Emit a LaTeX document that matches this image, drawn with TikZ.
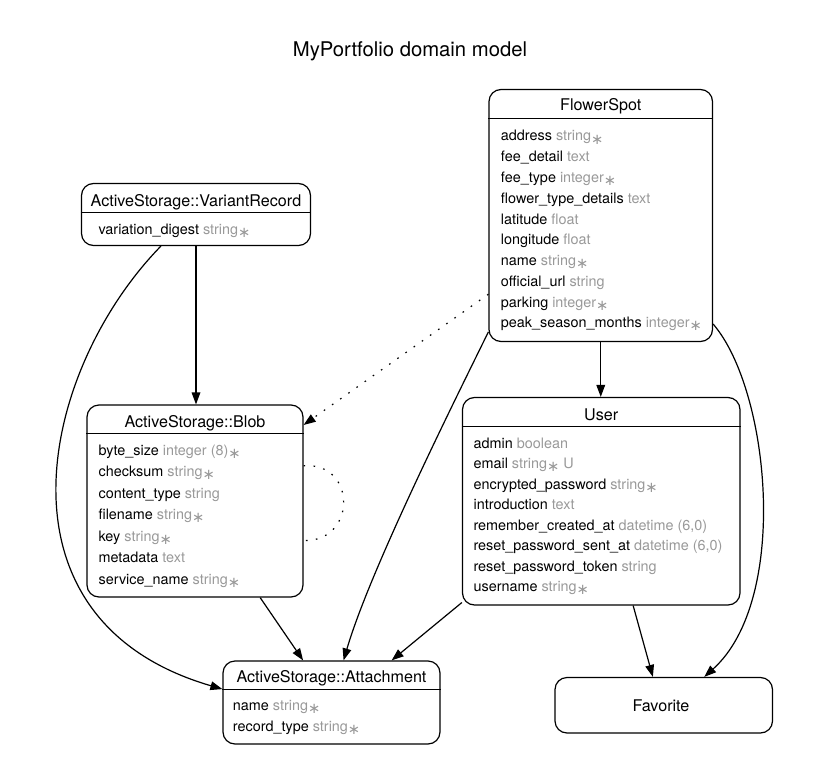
\documentclass[tikz,border=0pt]{standalone}
\usepackage{fontspec}
\setmainfont{TeX Gyre Heros}
\newfontfamily\symfont{DejaVu Sans}
\usetikzlibrary{arrows.meta}
\definecolor{typegray}{gray}{0.6}
\newcommand\req{\raisebox{-0.4ex}{\symfont\fontsize{11}{11}\selectfont ∗}}
\newcommand\ty[1]{\textcolor{typegray}{#1}}
\begin{document}
\begin{tikzpicture}[x=0.75pt,y=-0.75pt,
  box/.style={draw, line width=0.9pt, rounded corners=9pt, inner sep=0pt},
  sep/.style={line width=0.9pt},
  attr/.style={anchor=base west, inner sep=0pt, font=\fontsize{10.8}{13}\selectfont},
  ttl/.style={anchor=base, inner sep=0pt, font=\fontsize{12.1}{14}\selectfont},
  rel/.style={line width=0.9pt, -{Triangle[length=9pt,width=6.5pt]}},
  dottedrel/.style={line width=0.9pt, dash pattern=on 1.2pt off 6.3pt, -{Triangle[length=9pt,width=6.5pt]}},
  dottedloop/.style={line width=0.9pt, dash pattern=on 1.2pt off 6.3pt}]
\useasboundingbox (0,0) rectangle (820,781);
\fill[white] (0,0) rectangle (820,781);

\node[anchor=base, inner sep=0pt, font=\fontsize{15.2}{18}\selectfont] (title) at (410,57) {MyPortfolio domain model};

% FlowerSpot
\node[box, minimum width=223.5*0.75pt, minimum height=252*0.75pt] (fs) at (600.75,215.5) {};
\node[ttl] (fs-t) at (600.75,111) {FlowerSpot};
\draw[sep] (fs.west |- 0,118.3) -- (fs.east |- 0,118.3);
\node[attr] (fs-1) at (500.7,141) {address \ty{string\req}};
\node[attr] (fs-2) at (500.7,161.75) {fee\_detail \ty{text}};
\node[attr] (fs-3) at (500.7,182.5) {fee\_type \ty{integer\req}};
\node[attr] (fs-4) at (500.7,203.25) {flower\_type\_details \ty{text}};
\node[attr] (fs-5) at (500.7,224) {latitude \ty{float}};
\node[attr] (fs-6) at (500.7,244.75) {longitude \ty{float}};
\node[attr] (fs-7) at (500.7,265.5) {name \ty{string\req}};
\node[attr] (fs-8) at (500.7,286.25) {official\_url \ty{string}};
\node[attr] (fs-9) at (500.7,307) {parking \ty{integer\req}};
\node[attr] (fs-10) at (500.7,327.75) {peak\_season\_months \ty{integer\req}};

% VariantRecord
\node[box, minimum width=229*0.75pt, minimum height=62*0.75pt] (vr) at (196,214.5) {};
\node[ttl] (vr-t) at (196,206) {ActiveStorage::VariantRecord};
\draw[sep] (vr.west |- 0,212.3) -- (vr.east |- 0,212.3);
\node[attr] (vr-1) at (98.3,234.3) {variation\_digest \ty{string\req}};

% Blob
\node[box, minimum width=216*0.75pt, minimum height=192*0.75pt] (blob) at (195,501) {};
\node[ttl] (blob-t) at (195,427.3) {ActiveStorage::Blob};
\draw[sep] (blob.west |- 0,433.3) -- (blob.east |- 0,433.3);
\node[attr] (blob-1) at (98.3,455) {byte\_size \ty{integer (8)\req}};
\node[attr] (blob-2) at (98.3,476.6) {checksum \ty{string\req}};
\node[attr] (blob-3) at (98.3,498.2) {content\_type \ty{string}};
\node[attr] (blob-4) at (98.3,519.8) {filename \ty{string\req}};
\node[attr] (blob-5) at (98.3,541.3) {key \ty{string\req}};
\node[attr] (blob-6) at (98.3,562.8) {metadata \ty{text}};
\node[attr] (blob-7) at (98.3,584.3) {service\_name \ty{string\req}};

% User
\node[box, minimum width=277.5*0.75pt, minimum height=207.5*0.75pt] (user) at (601.25,501.25) {};
\node[ttl] (user-t) at (601.25,420) {User};
\draw[sep] (user.west |- 0,426.7) -- (user.east |- 0,426.7);
\node[attr] (user-1) at (473.3,448.3) {admin \ty{boolean}};
\node[attr] (user-2) at (473.3,468.8) {email \ty{string\req{} U}};
\node[attr] (user-3) at (473.3,489.3) {encrypted\_password \ty{string\req}};
\node[attr] (user-4) at (473.3,509.8) {introduction \ty{text}};
\node[attr] (user-5) at (473.3,530.3) {remember\_created\_at \ty{datetime (6,0)}};
\node[attr] (user-6) at (473.3,550.8) {reset\_password\_sent\_at \ty{datetime (6,0)}};
\node[attr] (user-7) at (473.3,571.3) {reset\_password\_token \ty{string}};
\node[attr] (user-8) at (473.3,591.8) {username \ty{string\req}};

% Attachment
\node[box, minimum width=217*0.75pt, minimum height=83*0.75pt] (att) at (331.5,702.5) {};
\node[ttl] (att-t) at (331.5,682.3) {ActiveStorage::Attachment};
\draw[sep] (att.west |- 0,689.3) -- (att.east |- 0,689.3);
\node[attr] (att-1) at (232.7,710) {name \ty{string\req}};
\node[attr] (att-2) at (232.7,731.7) {record\_type \ty{string\req}};

% Favorite
\node[box, minimum width=217.5*0.75pt, minimum height=55.5*0.75pt] (fav) at (663.75,705.25) {};
\node[ttl] (fav-t) at (661,711.7) {Favorite};

% Relations
\draw[rel] (vr.south) -- (vr.south |- blob.north);
\draw[rel] (vr.222.4) .. controls (40,370) and (-15,620) .. (att.173.4);
\draw[dottedrel] (fs.215.4) -- (blob.35.9);
\draw[dottedloop] (blob.18.4) .. controls (357,462) and (357,542) .. (blob.340.6);
\draw[rel] (fs.south) -- (fs.south |- user.north);
\draw[rel] (fs.226.7) .. controls (455,400) and (370,570) .. (att.74.5);
\draw[rel] (fs.316.9) .. controls (770,390) and (790,600) .. (fav.35.3);
\draw[rel] (blob.304.1) -- (att.124.5);
\draw[rel] (user.216.8) -- (att.35.35);
\draw[rel] (user.287) -- (fav.111.2);
\end{tikzpicture}
\end{document}
